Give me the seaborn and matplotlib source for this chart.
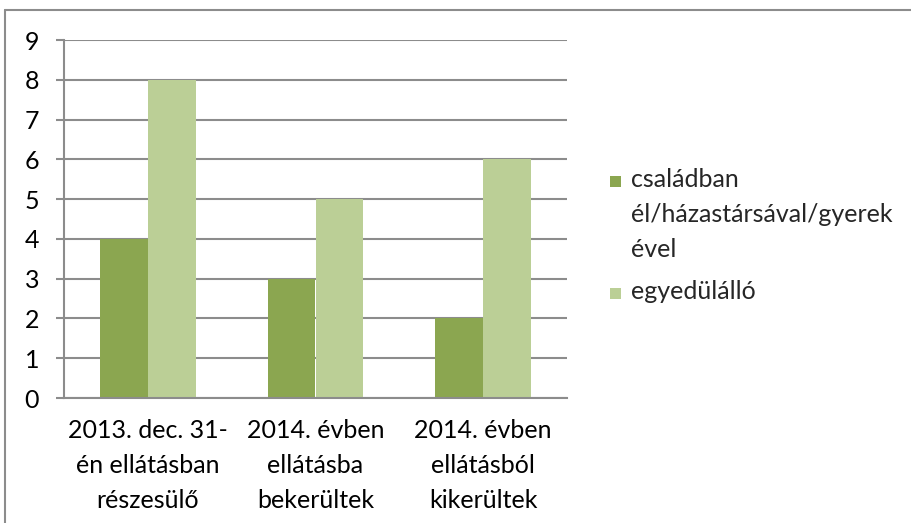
import matplotlib
matplotlib.use("Agg")
import matplotlib.pyplot as plt
import seaborn as sns
import pandas as pd
from matplotlib.lines import Line2D
from matplotlib.patches import Rectangle

categories = ["2013. dec. 31-\nén ellátásban\nrészesülő",
              "2014. évben\nellátásba\nbekerültek",
              "2014. évben\nellátásból\nkikerültek"]
series_names = ["családban\nél/házastársával/gyerek\nével", "egyedülálló"]
family_vals = [4, 3, 2]
single_vals = [8, 5, 6]
colors = ["#8BA650", "#BBCF96"]

df = pd.DataFrame({
    "cat": categories * 2,
    "series": [series_names[0]] * 3 + [series_names[1]] * 3,
    "val": family_vals + single_vals,
})

sns.set_style("white")
FONT = ["Lato", "DejaVu Sans"]
plt.rcParams["font.family"] = FONT
FS = 18
LS = 1.63

W, H = 912, 523
fig = plt.figure(figsize=(W / 100, H / 100), dpi=100)
ax = fig.add_axes([64 / W, 1 - 398 / H, (567 - 64) / W, (398 - 40) / H])

sns.barplot(data=df, x="cat", y="val", hue="series", palette=colors,
            width=0.57, saturation=1, ax=ax, legend=False, linewidth=0)

grid_c = "#8C8C8C"
ax.set_ylim(0, 9)
ax.set_xlim(-0.5, 2.5)
ax.set_yticks(range(0, 10))
ax.yaxis.grid(True, color=grid_c, linewidth=1.5)
ax.set_axisbelow(True)
for s in ["top", "right"]:
    ax.spines[s].set_visible(False)
for s in ["left", "bottom"]:
    ax.spines[s].set_color(grid_c)
    ax.spines[s].set_linewidth(1.5)
ax.set_xlabel("")
ax.set_ylabel("")
ax.set_xticks([0, 1, 2])
ax.set_xticklabels(categories, linespacing=LS)
ax.set_xticks([-0.5, 0.5, 1.5, 2.5], minor=True)
ax.tick_params(axis="x", which="major", length=0, labelsize=FS, pad=15, colors="black")
ax.tick_params(axis="x", which="minor", length=6, width=1.5, color=grid_c, direction="out")
ax.tick_params(axis="y", length=6, width=1.5, color=grid_c, labelsize=FS, pad=12, left=True)
for t in ax.get_yticklabels():
    t.set_color("black")

# legend (handle aligned with the first line of each label)
leg_y = [1 - 181 / H, 1 - 293 / H]
for c, name, y in zip(colors, series_names, leg_y):
    fig.add_artist(Rectangle((610 / W, y - 6 / H), 11 / W, 11 / H, transform=fig.transFigure,
                             facecolor=c, edgecolor="none"))
    fig.text(631 / W, y + 13 / H, name, ha="left", va="top", fontsize=FS,
             linespacing=LS, family=FONT)

# outer chart frame (left and top edges visible)
fig.add_artist(Line2D([5 / W, 5 / W], [0, 1 - 10 / H], transform=fig.transFigure, color="#8C8C8C", linewidth=1.5))
fig.add_artist(Line2D([5 / W, 1], [1 - 10 / H, 1 - 10 / H], transform=fig.transFigure, color="#8C8C8C", linewidth=1.5))

fig.savefig("out.png", dpi=100)
